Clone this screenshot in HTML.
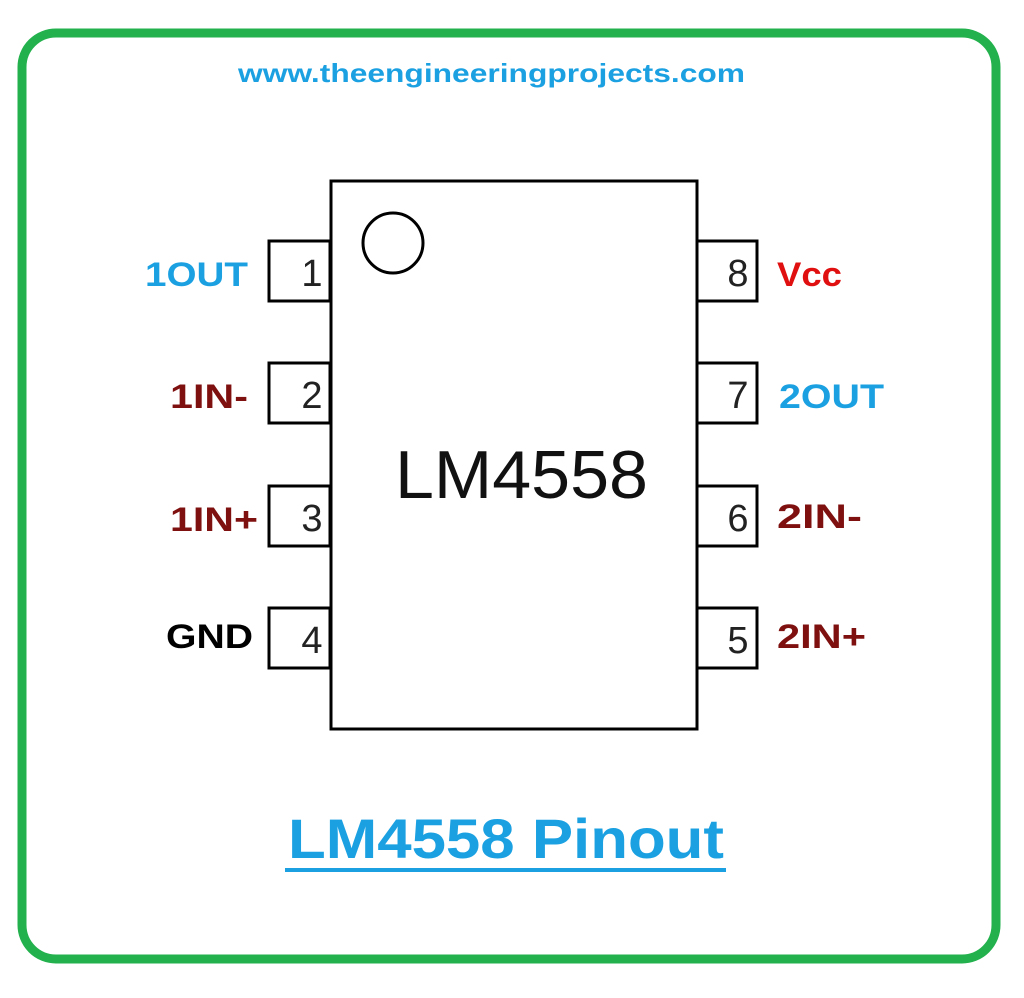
<!DOCTYPE html>
<html><head><style>body{margin:0;background:#fff}</style></head><body>
<svg width="1024" height="993" xmlns="http://www.w3.org/2000/svg" font-family="Liberation Sans, sans-serif">
<rect x="22" y="33" width="974" height="926" rx="34" fill="#fff" stroke="#22b14c" stroke-width="9"/>
<text x="238" y="82" textLength="507" lengthAdjust="spacingAndGlyphs" font-size="26" font-weight="bold" fill="#1ba1e2">www.theengineeringprojects.com</text>
<g fill="#fff" stroke="#000" stroke-width="3">
<rect x="269" y="241" width="61" height="60"/>
<rect x="269" y="363" width="61" height="60"/>
<rect x="269" y="486" width="61" height="60"/>
<rect x="269" y="608" width="61" height="60"/>
<rect x="697" y="241" width="60" height="60"/>
<rect x="697" y="363" width="60" height="60"/>
<rect x="697" y="486" width="60" height="60"/>
<rect x="697" y="608" width="60" height="60"/>
<rect x="331" y="181" width="366" height="548"/>
<circle cx="393" cy="243" r="30"/>
</g>
<g font-size="38" fill="#222" text-anchor="middle">
<text x="312" y="286">1</text><text x="312" y="408">2</text><text x="312" y="531">3</text><text x="312" y="653">4</text>
<text x="738" y="286">8</text><text x="738" y="408">7</text><text x="738" y="531">6</text><text x="738" y="653">5</text>
</g>
<text x="395" y="498" textLength="253" lengthAdjust="spacingAndGlyphs" font-size="68" fill="#111">LM4558</text>
<g font-size="34" font-weight="bold" lengthAdjust="spacingAndGlyphs">
<text x="145" y="286" textLength="103" lengthAdjust="spacingAndGlyphs" fill="#1ba1e2">1OUT</text>
<text x="170" y="408" textLength="78" lengthAdjust="spacingAndGlyphs" fill="#7f1010">1IN-</text>
<text x="170" y="531" textLength="88" lengthAdjust="spacingAndGlyphs" fill="#7f1010">1IN+</text>
<text x="166" y="648" textLength="87" lengthAdjust="spacingAndGlyphs" fill="#000">GND</text>
<text x="777" y="286" textLength="65" lengthAdjust="spacingAndGlyphs" fill="#e01010">Vcc</text>
<text x="779" y="408" textLength="105" lengthAdjust="spacingAndGlyphs" fill="#1ba1e2">2OUT</text>
<text x="777" y="528" textLength="85" lengthAdjust="spacingAndGlyphs" fill="#7f1010">2IN-</text>
<text x="777" y="648" textLength="89" lengthAdjust="spacingAndGlyphs" fill="#7f1010">2IN+</text>
</g>
<text x="288" y="858" textLength="436" lengthAdjust="spacingAndGlyphs" font-size="56" font-weight="bold" fill="#1ba1e2">LM4558 Pinout</text>
<rect x="285" y="868" width="441" height="4" fill="#1ba1e2"/>
</svg>
</body></html>
